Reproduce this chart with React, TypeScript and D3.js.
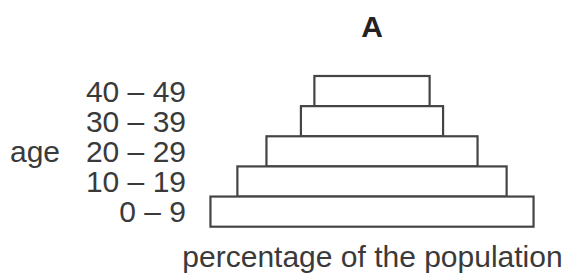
import React from "react";
import * as d3 from "d3";

const ageGroups = ["40 – 49", "30 – 39", "20 – 29", "10 – 19", "0 – 9"];
const percentages = [10.7, 13.2, 19.6, 25, 30];
const title = "A";
const yTitle = "age";
const xTitle = "percentage of the population";

const W = 570;
const H = 275;
const CX = 372;
const PX_PER_UNIT = 10.77;

export default function App() {
  const maxV = d3.max(percentages) as number;
  const x = d3
    .scaleLinear()
    .domain([-maxV / 2, maxV / 2])
    .range([CX - (maxV / 2) * PX_PER_UNIT, CX + (maxV / 2) * PX_PER_UNIT]);
  const y = d3.scaleBand<string>().domain(ageGroups).range([76, 226.7]).padding(0);
  const font = "'Liberation Sans', Arial, sans-serif";
  const ink = "#3a3a3a";

  return (
    <svg
      width={W}
      height={H}
      viewBox={`0 0 ${W} ${H}`}
      style={{ position: "fixed", left: 0, top: 0, background: "#fff" }}
    >
      <rect x={0} y={0} width={W} height={H} fill="#fff" />
      <text
        x={CX}
        y={36.5}
        textAnchor="middle"
        fontFamily={font}
        fontWeight="bold"
        fontSize={30}
        fill="#222"
      >
        {title}
      </text>
      {ageGroups.map((g, i) => {
        const v = percentages[i];
        return (
          <rect
            key={g}
            x={x(-v / 2)}
            y={y(g) as number}
            width={x(v / 2) - x(-v / 2)}
            height={y.bandwidth()}
            fill="#fff"
            stroke="#444"
            strokeWidth={2.2}
          />
        );
      })}
      {ageGroups.map((g) => (
        <text
          key={"l" + g}
          x={186}
          y={(y(g) as number) + y.bandwidth() / 2}
          dy="0.36em"
          textAnchor="end"
          fontFamily={font}
          fontSize={30}
          fill={ink}
        >
          {g}
        </text>
      ))}
      <text
        x={10}
        y={(y("20 – 29") as number) + y.bandwidth() / 2}
        dy="0.36em"
        textAnchor="start"
        fontFamily={font}
        fontSize={30}
        fill={ink}
      >
        {yTitle}
      </text>
      <text
        x={372.5}
        y={267}
        textAnchor="middle"
        fontFamily={font}
        fontSize={30}
        fill={ink}
      >
        {xTitle}
      </text>
    </svg>
  );
}
